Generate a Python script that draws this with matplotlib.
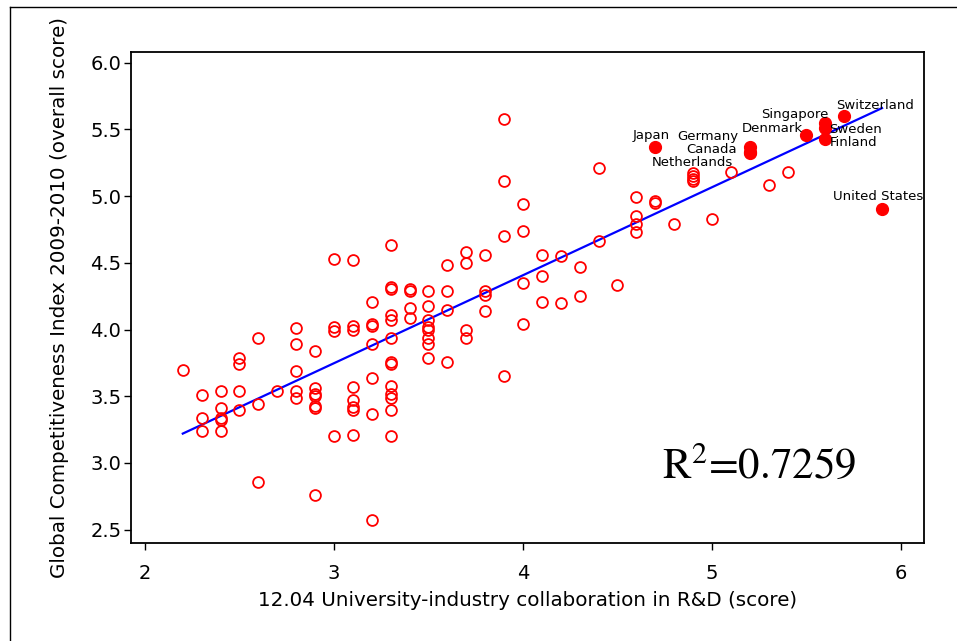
import numpy as np
import matplotlib
matplotlib.use('Agg')
import matplotlib.pyplot as plt
from matplotlib import font_manager
from matplotlib.lines import Line2D

# university-industry collaboration score vs GCI score, unlabelled countries
collab = [2.2,
          2.3, 2.3, 2.3,
          2.4, 2.4, 2.4, 2.4, 2.4,
          2.5, 2.5, 2.5, 2.5,
          2.6, 2.6, 2.6,
          2.7,
          2.8, 2.8, 2.8, 2.8, 2.8,
          2.9, 2.9, 2.9, 2.9, 2.9, 2.9, 2.9,
          3.0, 3.0, 3.0, 3.0,
          3.1, 3.1, 3.1, 3.1, 3.1, 3.1, 3.1, 3.1,
          3.2, 3.2, 3.2, 3.2, 3.2, 3.2, 3.2,
          3.3, 3.3, 3.3, 3.3, 3.3, 3.3, 3.3, 3.3, 3.3, 3.3, 3.3, 3.3, 3.3,
          3.4, 3.4, 3.4, 3.4,
          3.5, 3.5, 3.5, 3.5, 3.5, 3.5, 3.5, 3.5,
          3.6, 3.6, 3.6, 3.6,
          3.7, 3.7, 3.7, 3.7,
          3.8, 3.8, 3.8, 3.8,
          3.9, 3.9, 3.9, 3.9,
          4.0, 4.0, 4.0, 4.0,
          4.1, 4.1, 4.1,
          4.2, 4.2,
          4.3, 4.3,
          4.4, 4.4,
          4.5,
          4.6, 4.6, 4.6, 4.6,
          4.7, 4.7,
          4.8,
          4.9, 4.9, 4.9, 4.9,
          5.0,
          5.1,
          5.3,
          5.4]
gci = [3.70,
       3.51, 3.34, 3.24,
       3.54, 3.41, 3.34, 3.32, 3.24,
       3.79, 3.74, 3.54, 3.40,
       3.94, 3.44, 2.86,
       3.54,
       4.01, 3.89, 3.69, 3.54, 3.49,
       3.84, 3.56, 3.52, 3.50, 3.43, 3.41, 2.76,
       4.53, 4.02, 3.99, 3.20,
       4.52, 4.03, 4.00, 3.57, 3.47, 3.42, 3.40, 3.21,
       4.21, 4.04, 4.03, 3.89, 3.64, 3.37, 2.57,
       4.63, 4.32, 4.30, 4.11, 4.07, 3.94, 3.76, 3.74, 3.58, 3.52, 3.49, 3.40, 3.20,
       4.30, 4.29, 4.16, 4.09,
       4.29, 4.18, 4.07, 4.02, 4.00, 3.94, 3.89, 3.79,
       4.48, 4.29, 4.15, 3.76,
       4.58, 4.50, 4.00, 3.94,
       4.56, 4.29, 4.26, 4.14,
       5.58, 5.11, 4.70, 3.65,
       4.94, 4.74, 4.35, 4.04,
       4.56, 4.40, 4.21,
       4.55, 4.20,
       4.47, 4.25,
       5.21, 4.66,
       4.33,
       4.99, 4.85, 4.79, 4.73,
       4.96, 4.95,
       4.79,
       5.17, 5.15, 5.13, 5.11,
       4.83,
       5.18,
       5.08,
       5.18]

# highlighted countries
countries = ['Japan', 'Germany', 'Canada', 'Netherlands', 'Denmark',
             'Singapore', 'Sweden', 'Finland', 'Switzerland', 'United States']
top_collab = [4.7, 5.2, 5.2, 5.2, 5.5, 5.6, 5.6, 5.6, 5.7, 5.9]
top_gci = [5.37, 5.37, 5.33, 5.32, 5.46, 5.55, 5.51, 5.43, 5.60, 4.90]

# label placement: offset in points and horizontal alignment
label_pos = {
    'Japan': ((-3, 8), 'center'),
    'Germany': ((-30, 7.5), 'center'),
    'Canada': ((-9, 2), 'right'),
    'Netherlands': ((-12, -6.5), 'right'),
    'Denmark': ((-2.5, 4.5), 'right'),
    'Singapore': ((2.5, 6), 'right'),
    'Sweden': ((2.5, -1), 'left'),
    'Finland': ((3.3, -2.7), 'left'),
    'Switzerland': ((-5.8, 7.7), 'left'),
    'United States': ((-3, 9.5), 'center'),
}


def pick_font(names, default='DejaVu Sans'):
    for name in names:
        try:
            font_manager.findfont(name, fallback_to_default=False)
            return name
        except ValueError:
            pass
    return default


narrow = pick_font(['Liberation Sans Narrow', 'DejaVu Sans Condensed'])
if narrow == 'DejaVu Sans':
    axis_fs, label_fs = 14.3, 9.5
else:
    axis_fs, label_fs = 17, 11.5

plt.rcParams['mathtext.fontset'] = 'stix'

fig = plt.figure(figsize=(9.57, 6.41), dpi=100)
ax = fig.add_axes([131 / 957, 1 - 543 / 641, (924 - 131) / 957, (543 - 52) / 641])

ax.plot(collab, gci, 'o', ms=7.8, mfc='none', mec='red', mew=1.3, zorder=3)
ax.plot(top_collab, top_gci, 'o', ms=8.5, color='red', zorder=4)

# least squares fit over every country
all_x = np.array(collab + top_collab)
all_y = np.array(gci + top_gci)
slope, intercept = np.polyfit(all_x, all_y, 1)
fit_x = np.array([all_x.min(), all_x.max()])
ax.plot(fit_x, slope * fit_x + intercept, color='blue', lw=1.6, zorder=2)

for name, cx, cy in zip(countries, top_collab, top_gci):
    (dx, dy), ha = label_pos[name]
    ax.annotate(name, (cx, cy), xytext=(dx, dy), textcoords='offset points',
                ha=ha, va='center', fontsize=label_fs, family=narrow, zorder=5)

ax.text(0.792, 0.155, r'R$^{2}$=0.7259', transform=ax.transAxes, ha='center',
        va='center', fontsize=31, family='STIXGeneral')

ax.set_xlim(1.926, 6.122)
ax.set_ylim(2.40, 6.08)
ax.set_xticks([2, 3, 4, 5, 6])
ax.set_yticks([2.5, 3.0, 3.5, 4.0, 4.5, 5.0, 5.5, 6.0])
ax.set_yticklabels(['2.5', '3.0', '3.5', '4.0', '4.5', '5.0', '5.5', '6.0'])
ax.tick_params(direction='out', length=5, width=1, labelsize=14, pad=2)
ax.tick_params(axis='x', pad=10)
for side in ['top', 'right', 'bottom', 'left']:
    ax.spines[side].set_linewidth(1.3)

ax.set_xlabel('12.04 University-industry collaboration in R&D (score)',
              fontsize=axis_fs, family=narrow, labelpad=6)
ax.set_ylabel('Global Competitiveness Index 2009-2010 (overall score)',
              fontsize=axis_fs, family=narrow, labelpad=15)

# outer border, only top and left edges show
fig.add_artist(Line2D([10 / 957, 1], [1 - 7 / 641, 1 - 7 / 641], color='black', lw=1))
fig.add_artist(Line2D([10 / 957, 10 / 957], [0, 1 - 7 / 641], color='black', lw=1))

fig.savefig('out.png', dpi=100)
